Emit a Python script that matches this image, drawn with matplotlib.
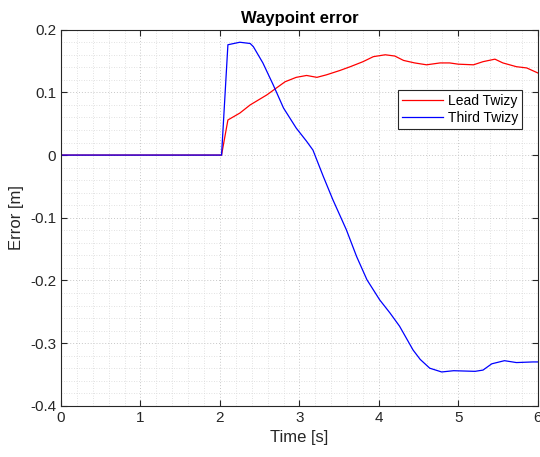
import matplotlib
matplotlib.use('Agg')
import matplotlib.pyplot as plt
from matplotlib.ticker import MultipleLocator

plt.rcParams['font.family'] = ['Liberation Sans', 'DejaVu Sans']

# Lead Twizy waypoint error
lead_t = [0.0, 2.02, 2.10, 2.25, 2.38, 2.59, 2.71, 2.82, 2.96, 3.09, 3.22, 3.34,
          3.51, 3.64, 3.80, 3.93, 4.08, 4.20, 4.31, 4.45, 4.60, 4.77, 4.89, 5.00,
          5.19, 5.31, 5.46, 5.56, 5.73, 5.86, 6.0]
lead_err = [0.0, 0.0, 0.056, 0.067, 0.080, 0.096, 0.107, 0.117, 0.124, 0.127,
            0.124, 0.128, 0.135, 0.141, 0.149, 0.157, 0.160, 0.158, 0.151, 0.147,
            0.144, 0.147, 0.147, 0.145, 0.144, 0.149, 0.153, 0.147, 0.141, 0.139,
            0.131]

# Third Twizy waypoint error
third_t = [0.0, 2.02, 2.10, 2.25, 2.38, 2.42, 2.54, 2.67, 2.80, 2.96, 3.09, 3.17,
           3.30, 3.42, 3.59, 3.72, 3.85, 4.01, 4.14, 4.26, 4.43, 4.52, 4.64, 4.79,
           4.94, 5.21, 5.31, 5.42, 5.58, 5.73, 5.94, 6.0]
third_err = [0.0, 0.0, 0.176, 0.180, 0.178, 0.173, 0.147, 0.112, 0.075, 0.043,
             0.022, 0.008, -0.034, -0.071, -0.119, -0.162, -0.199, -0.231, -0.252,
             -0.273, -0.311, -0.326, -0.340, -0.346, -0.344, -0.345, -0.343, -0.333,
             -0.328, -0.331, -0.330, -0.330]

fig = plt.figure(figsize=(5.4, 4.57), dpi=100)
ax = fig.add_axes([0.113, 0.112, 0.883, 0.823])

ax.plot(lead_t, lead_err, color='red', linewidth=0.9, label='Lead Twizy')
ax.plot(third_t, third_err, color='blue', linewidth=0.9, label='Third Twizy')

ax.set_xlim(0, 6)
ax.set_ylim(-0.4, 0.2)
ax.xaxis.set_major_locator(MultipleLocator(1))
ax.yaxis.set_major_locator(MultipleLocator(0.1))
ax.xaxis.set_minor_locator(MultipleLocator(0.2))
ax.yaxis.set_minor_locator(MultipleLocator(0.02))
ax.set_yticks([0.2, 0.1, 0, -0.1, -0.2, -0.3, -0.4])
ax.set_yticklabels(['0.2', '0.1', '0', '-0.1', '-0.2', '-0.3', '-0.4'])

ax.grid(which='major', color='#c8c8c8', linestyle=(0, (1, 2)), linewidth=0.7)
ax.grid(which='minor', color='#d8d8d8', linestyle=(0, (1, 2)), linewidth=0.6)
ax.tick_params(which='major', direction='in', length=4, top=True, right=True,
               labelsize=11, colors='#262626', width=0.8)
ax.tick_params(which='minor', length=0)
for s in ax.spines.values():
    s.set_color('#262626')
    s.set_linewidth(0.8)

ax.set_xlabel('Time [s]', fontsize=12, color='#262626')
ax.set_ylabel('Error [m]', fontsize=12, color='#262626')
ax.set_title('Waypoint error', fontsize=12, fontweight='bold', pad=5)

leg = ax.legend(loc='upper left', bbox_to_anchor=(0.706, 0.84), fontsize=10,
                fancybox=False, framealpha=1, edgecolor='#262626',
                borderpad=0.3, handlelength=3.0, handletextpad=0.3,
                labelspacing=0.2, borderaxespad=0)
leg.get_frame().set_linewidth(0.8)

fig.savefig('out.png', dpi=100)
